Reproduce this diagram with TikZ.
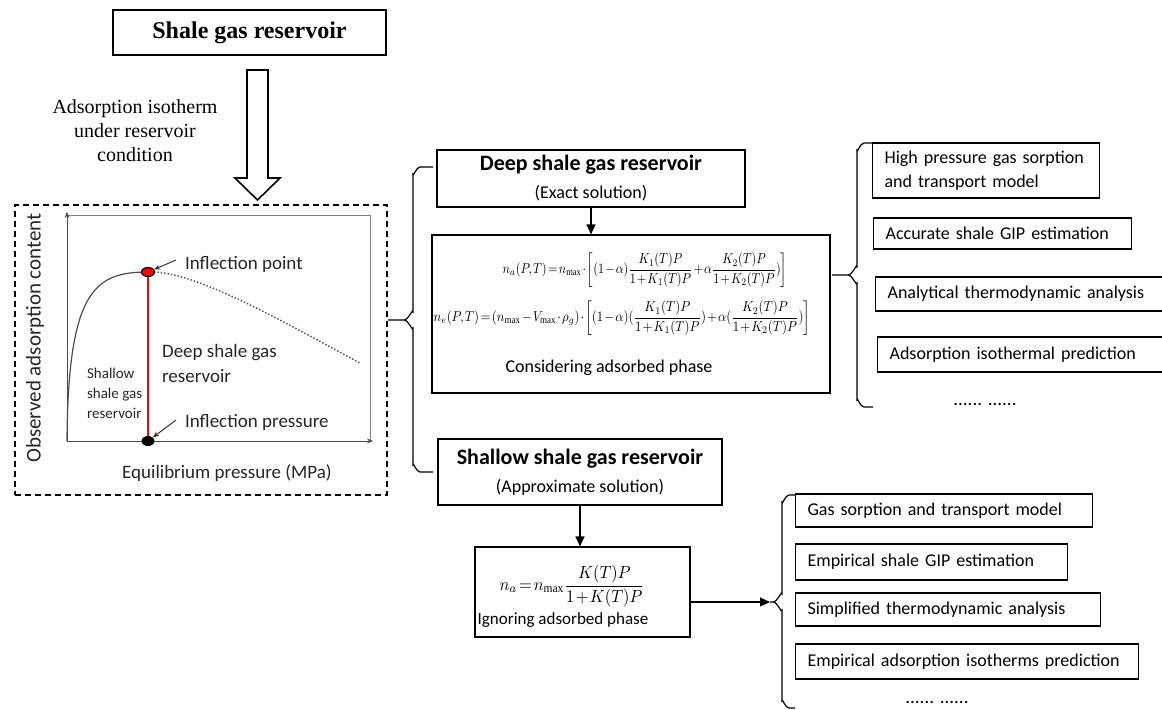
\documentclass[tikz,border=0pt]{standalone}
\usepackage{fontspec}
\setmainfont{Liberation Serif}
\newfontfamily\calibrifont{Carlito}
\usepackage{amsmath}
\usetikzlibrary{arrows.meta,positioning,shapes.geometric}

% word-like curly brace: ends x, spine x, tip x, top y, bottom y, middle y
\newcommand{\wbrace}[6]{%
  \draw[conn] (#1,#4) -- (#2+7,#4) to[out=180,in=-90] (#2,#4+7) -- (#2,#6-8)
    to[out=90,in=0] (#2-9,#6) -- (#3,#6)
    (#2-9,#6) to[out=0,in=-90] (#2,#6+8) -- (#2,#5-7)
    to[out=90,in=180] (#2+7,#5) -- (#1,#5);}
% tight spacing for the model equations
\newcommand{\tighteq}{\thickmuskip=2mu\medmuskip=1.5mu\thinmuskip=1.5mu}

\begin{document}
\begin{tikzpicture}[x=0.5pt,y=-0.5pt,
    conn/.style={line width=0.6pt},
    arrow/.style={conn, -{Triangle[length=5pt,width=4.5pt]}},
    box/.style={draw, line width=0.6pt, align=center, inner sep=2pt,
      font=\calibrifont\fontsize{9}{14}\selectfont},
    item/.style={draw, line width=0.6pt, anchor=west, align=left, inner xsep=6pt,
      font=\calibrifont\fontsize{9}{12}\selectfont},
    serif/.style={font=\fontsize{10}{12}\selectfont},
    plotlabel/.style={text=black!85, font=\calibrifont\fontsize{9.5}{12.5}\selectfont},
    eq/.style={inner sep=0pt, font=\fontsize{10}{12}\selectfont\tighteq, transform shape}
  ]
  \useasboundingbox (0,0) rectangle (1162,709);

  % top of the flow
  \node[draw, line width=0.6pt, minimum width=136.5pt, minimum height=22.5pt,
    font=\bfseries\fontsize{12}{14}\selectfont] (reservoir) at (249.5,32.5) {Shale gas reservoir};
  \node[serif, align=center] (isotherm) at (135,131) {Adsorption isotherm\\under reservoir\\condition};
  \coordinate (hollow) at (257.5,70);
  \draw[line width=0.8pt] (hollow) ++(-10.5,0) -- ++(21,0) -- ++(0,108) -- ++(12,0)
    -- ++(-22.5,22) -- ++(-22.5,-22) -- ++(12,0) -- cycle;

  % isotherm sketch
  \node[draw, line width=1pt, dash pattern=on 3pt off 2pt, minimum width=186pt,
    minimum height=145pt] (curvebox) at (201,350) {};
  \draw[black!50, line width=0.5pt] (67,215) rectangle (370,441);
  \draw[black!70, line width=0.5pt, -{Stealth[length=3pt,width=2.5pt]}] (67,441) -- (67,212);
  \draw[black!70, line width=0.5pt, -{Stealth[length=3pt,width=2.5pt]}] (67,441) -- (373,441);
  \draw[black!70, line width=0.6pt] (67,441) .. controls (68,290) and (95,272) .. (148,272);
  \draw[black!70, line width=0.7pt, densely dotted] (154,272) .. controls (200,274) and (280,320) .. (360,363);
  \draw[red, line width=1.2pt] (148,276) -- (148,441);
  \node[draw, fill=red, ellipse, line width=0.6pt, minimum width=6.5pt, minimum height=4.5pt,
    inner sep=0pt] (ipoint) at (148,272) {};
  \node[fill=black, ellipse, minimum width=6.5pt, minimum height=5pt, inner sep=0pt] (ipress) at (148,441) {};
  \node[plotlabel, anchor=west] (pointlbl) at (178,264) {Inflection point};
  \node[plotlabel, anchor=west] (presslbl) at (178,422) {Inflection pressure};
  \draw[black!80, line width=0.5pt, -{Stealth[length=3pt,width=2.5pt]}] ([xshift=-1pt,yshift=2pt]pointlbl.west) -- (ipoint);
  \draw[black!80, line width=0.5pt, -{Stealth[length=3pt,width=2.5pt]}] ([xshift=-1pt,yshift=1pt]presslbl.west) -- (ipress);
  \node[plotlabel, anchor=west, align=left] (deeplbl) at (155,363) {Deep shale gas\\reservoir};
  \node[plotlabel, anchor=west, align=left, font=\calibrifont\fontsize{7.5}{10}\selectfont] (shallowlbl) at (80,393) {Shallow\\shale gas\\reservoir};
  \node[plotlabel, rotate=90, font=\calibrifont\fontsize{10.5}{12}\selectfont] (ylbl) at (35,338) {Observed adsorption content};
  \node[plotlabel] (xlbl) at (227,473) {Equilibrium pressure (MPa)};

  % deep reservoir branch
  \node[box, minimum width=154pt, minimum height=28.5pt] (deep) at (591,178.5)
    {{\bfseries\fontsize{11}{14}\selectfont Deep shale gas reservoir}\\(Exact solution)};
  \node[box, minimum width=199pt, minimum height=79pt] (eqdeep) at (631,314) {};
  \node[eq, xscale=0.61, yscale=0.72] (eqabs) at (645,270)
    {$\displaystyle n_a(P,T)=n_{\max}\cdot\left[(1-\alpha)\frac{K_1(T)P}{1+K_1(T)P}+\alpha\frac{K_2(T)P}{1+K_2(T)P})\right]$};
  \node[eq, xscale=0.64, yscale=0.72] (eqexc) at (622,318)
    {$\displaystyle n_e(P,T)=(n_{\max}-V_{\max}\cdot\rho_g)\cdot\left[(1-\alpha)(\frac{K_1(T)P}{1+K_1(T)P})+\alpha(\frac{K_2(T)P}{1+K_2(T)P})\right]$};
  \node[box, draw=none] (consider) at (609,368) {Considering adsorbed phase};
  \draw[arrow] (deep.south) -- (deep.south |- eqdeep.north);

  \node[item, minimum height=27.5pt, text width=101.5pt] (hpmodel) at (872,170.5) {High pressure gas sorption\\and transport model};
  \node[item, minimum height=15.5pt, text width=117pt] (accgip) at (873,233.5) {Accurate shale GIP estimation};
  \node[item, minimum height=17pt, text width=138pt] (anathermo) at (875,294) {Analytical thermodynamic analysis};
  \node[item, minimum height=17.5pt, text width=137pt] (adspred) at (877,354.5) {Adsorption isothermal prediction};
  \node[plotlabel, text=black] (moreA) at (985,404) {...... ......};

  % shallow reservoir branch
  \node[box, minimum width=142pt, minimum height=33pt] (shallow) at (580,472)
    {{\bfseries\fontsize{11}{14}\selectfont Shallow shale gas reservoir}\\(Approximate solution)};
  \node[box, minimum width=107.5pt, minimum height=45pt] (eqshallow) at (582.5,592) {};
  \node[eq, xscale=0.82, yscale=0.88] (eqlangmuir) at (572,586) {$\displaystyle n_a=n_{\max}\frac{K(T)P}{1+K(T)P}$};
  \node[box, draw=none, inner sep=0pt, font=\calibrifont\fontsize{8.5}{10}\selectfont] (ignore) at (563,620) {Ignoring adsorbed phase};
  \draw[arrow] (shallow.south) -- (shallow.south |- eqshallow.north);

  \node[item, minimum height=16.5pt, text width=136.5pt] (gsmodel) at (795,510.5) {Gas sorption and transport model};
  \node[item, minimum height=18pt, text width=124pt] (empgip) at (795,562) {Empirical shale GIP estimation};
  \node[item, minimum height=16.5pt, text width=140.5pt] (simthermo) at (795,609.5) {Simplified thermodynamic analysis};
  \node[item, minimum height=17.5pt, text width=159.5pt] (empiso) at (795,661.5) {Empirical adsorption isotherms prediction};
  \node[plotlabel, text=black] (moreB) at (937,702) {...... ......};

  % braces
  \wbrace{433}{413}{388}{167}{472}{320}
  \wbrace{873}{857}{832}{143}{407}{275}
  \wbrace{795}{782}{770}{495}{708}{602}
  \coordinate (tipB) at (770,602);
  \draw[arrow] (eqshallow.east |- tipB) -- (tipB);
\end{tikzpicture}
\end{document}
